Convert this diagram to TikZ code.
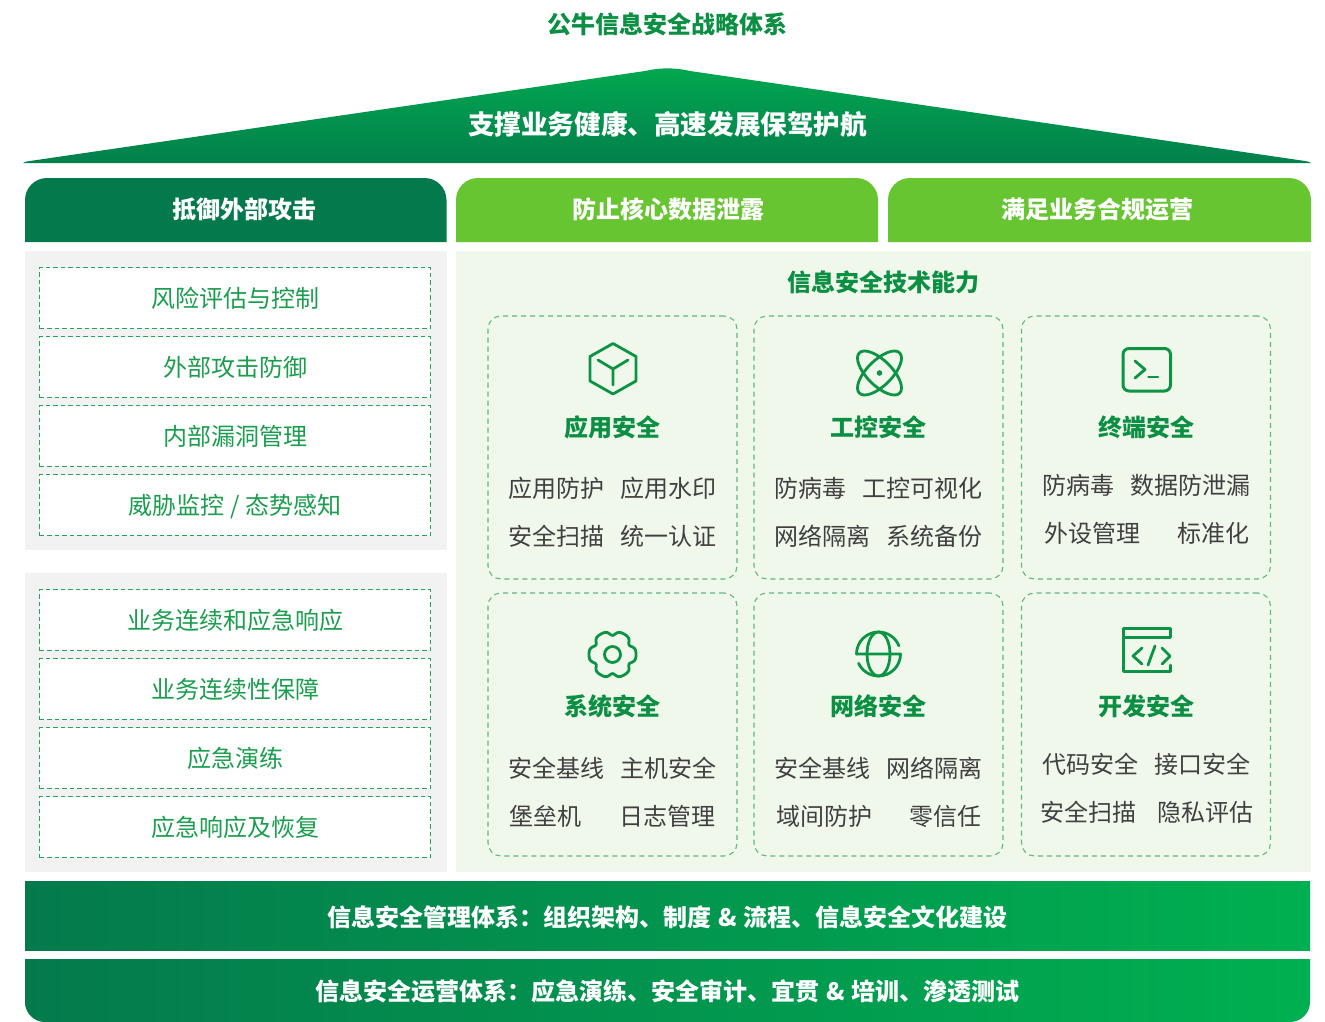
\documentclass[tikz,border=0pt]{standalone}
\usepackage{fontspec}
\setmainfont{Noto Sans CJK SC}
\definecolor{dkgreen}{HTML}{047A4C}
\definecolor{ltgreen}{HTML}{66C530}
\definecolor{brgreen}{HTML}{00B050}
\definecolor{ttl}{HTML}{0B8F43}
\definecolor{lst}{HTML}{1A9E4E}
\definecolor{ico}{HTML}{0B9444}
\definecolor{itm}{HTML}{404040}
\definecolor{dash1}{HTML}{22A65A}
\definecolor{dash2}{HTML}{5DB981}
\definecolor{panelA}{HTML}{F2F2F2}
\definecolor{panelB}{HTML}{F0F8EC}
\tikzset{
  x=1pt,y=-1pt,
  txt/.style={inner sep=0pt,font=\fontsize{24}{28}\selectfont},
  boldtxt/.style={txt,font=\fontsize{24}{28}\selectfont\bfseries},
  toptitle/.style={boldtxt,text=ttl},
  headtxt/.style={boldtxt,text=white},
  cardtitle/.style={boldtxt,text=ttl},
  cell/.style={txt,text=itm,anchor=west},
  listbox/.style={draw=dash1,fill=white,line width=1.2pt,dash pattern=on 4.5pt off 3pt,
    minimum width=391pt,minimum height=61pt,inner sep=0pt,text=lst,text height=21.5pt,text depth=2.5pt,
    font=\fontsize{24}{28}\selectfont},
  card/.style={draw=dash2,line width=1.1pt,dash pattern=on 5pt off 4pt,rounded corners=13pt,
    minimum width=249pt,minimum height=263pt,inner sep=0pt},
  icon/.style={draw=ico,line width=2.8pt,line cap=round,line join=round}
}
\begin{document}
\begin{tikzpicture}
\useasboundingbox (0,0) rectangle (1325,1022);
\fill[white] (0,0) rectangle (1325,1022);

\node[toptitle] (title) at (667.5,24) {公牛信息安全战略体系};

% roof
\shade[top color=brgreen!85!dkgreen,bottom color=dkgreen!90!brgreen]
  (23,163) .. controls (24,162) and (26,161.5) .. (30,161) -- (645,71) .. controls (660,67.5) and (675,67.5) .. (690,71)
  -- (1305,161) .. controls (1308,161.5) and (1310,162) .. (1311,163) -- cycle;
\node[headtxt,font=\fontsize{26.6}{30}\selectfont\bfseries] (roof) at (667.5,124) {支撑业务健康、高速发展保驾护航};

% headers
\fill[dkgreen] (25,242) -- (25,200) arc[start angle=180,end angle=270,radius=22] -- (424.5,178) arc[start angle=270,end angle=360,radius=22] -- (446.5,242) -- cycle;
\node[headtxt] (h1) at (244,209) {抵御外部攻击};
\fill[ltgreen] (456,242) -- (456,200) arc[start angle=180,end angle=270,radius=22] -- (856,178) arc[start angle=270,end angle=360,radius=22] -- (878,242) -- cycle;
\node[headtxt] (h2) at (668,209) {防止核心数据泄露};
\fill[ltgreen] (888,242) -- (888,200) arc[start angle=180,end angle=270,radius=22] -- (1289,178) arc[start angle=270,end angle=360,radius=22] -- (1311,242) -- cycle;
\node[headtxt] (h3) at (1097,209) {满足业务合规运营};

% panels
\fill[panelA] (25,251) rectangle (447,550);
\fill[panelA] (25,573) rectangle (447,872);
\fill[panelB] (456,251) rectangle (1311,872);

% lists
\node[listbox] (a1) at (235,298) {风险评估与控制};
\node[listbox] (a2) at (235,367) {外部攻击防御};
\node[listbox] (a3) at (235,436) {内部漏洞管理};
\node[listbox] (a4) at (235,505) {威胁监控 / 态势感知};
\node[listbox] (b1) at (235,620) {业务连续和应急响应};
\node[listbox] (b2) at (235,689) {业务连续性保障};
\node[listbox] (b3) at (235,758) {应急演练};
\node[listbox] (b4) at (235,827) {应急响应及恢复};

\node[toptitle] (tech) at (883,282) {信息安全技术能力};

% cards
\node[card] (c1) at (612.5,447.5) {};
\node[card] (c2) at (878.5,447.5) {};
\node[card] (c3) at (1146,447.5) {};
\node[card] (c4) at (612.5,724.5) {};
\node[card] (c5) at (878.5,724.5) {};
\node[card] (c6) at (1146,724.5) {};

% card titles
\node[cardtitle] (t1) at (612,427) {应用安全};
\node[cardtitle] (t2) at (878,427) {工控安全};
\node[cardtitle] (t3) at (1146,427) {终端安全};
\node[cardtitle] (t4) at (612,706) {系统安全};
\node[cardtitle] (t5) at (878,706) {网络安全};
\node[cardtitle] (t6) at (1146,706) {开发安全};

% card items
\node[cell] (i11) at (508,488) {应用防护};
\node[cell] (i12) at (620,488) {应用水印};
\node[cell] (i13) at (508,536) {安全扫描};
\node[cell] (i14) at (620,536) {统一认证};
\node[cell] (i21) at (774,488) {防病毒};
\node[cell] (i22) at (862,488) {工控可视化};
\node[cell] (i23) at (774,536) {网络隔离};
\node[cell] (i24) at (886,536) {系统备份};
\node[cell] (i31) at (1042,485) {防病毒};
\node[cell] (i32) at (1130,485) {数据防泄漏};
\node[cell] (i33) at (1044,533) {外设管理};
\node[cell] (i34) at (1177,533) {标准化};
\node[cell] (i41) at (508,768) {安全基线};
\node[cell] (i42) at (620,768) {主机安全};
\node[cell] (i43) at (509,816) {堡垒机};
\node[cell] (i44) at (619,816) {日志管理};
\node[cell] (i51) at (774,768) {安全基线};
\node[cell] (i52) at (886,768) {网络隔离};
\node[cell] (i53) at (776,816) {域间防护};
\node[cell] (i54) at (909,816) {零信任};
\node[cell] (i61) at (1042,764) {代码安全};
\node[cell] (i62) at (1154,764) {接口安全};
\node[cell] (i63) at (1040,812) {安全扫描};
\node[cell] (i64) at (1157,812) {隐私评估};

% cube icon
\draw[icon] (613,343.5) -- (636,356.5) -- (636,381) -- (613,394) -- (590,381) -- (590,356.5) -- cycle;
\draw[icon] (598,360) -- (613,369) -- (628,360) (613,369) -- (613,385);

% atom icon
\draw[icon,rotate around={45:(879.5,373)}] (879.5,373) ellipse[x radius=28.5,y radius=12.5];
\draw[icon,rotate around={-45:(879.5,373)}] (879.5,373) ellipse[x radius=28.5,y radius=12.5];
\fill[ico] (879.5,373) circle[radius=2.8];

% terminal icon
\draw[icon,line width=3pt,rounded corners=6pt] (1123,348.5) rectangle (1170.5,391);
\draw[icon] (1135,361) -- (1145,369.5) -- (1135,378);
\draw[icon] (1148.5,377) -- (1158,377);

% gear icon
\draw[icon] plot[smooth cycle,samples=73,domain=0:355,variable=\t]
  ({612.5+(23.5-4.5*pow((1-cos(6*\t))/2,3))*cos(\t)},{654.5+(23.5-4.5*pow((1-cos(6*\t))/2,3))*sin(\t)});
\draw[icon] (612.5,654.5) circle[radius=8];

% globe icon
\draw[icon] (856.5,654) arc[start angle=180,end angle=338,radius=22];
\draw[icon] (856.5,654) -- (900.5,654) arc[start angle=0,end angle=155,radius=22];
\draw[icon] (878.5,654) ellipse[x radius=11.5,y radius=22];

% code icon
\draw[icon,line width=3pt] (1170,637) -- (1170,628.5) -- (1123.5,628.5) -- (1123.5,671.5) -- (1170,671.5) -- (1170,665);
\draw[icon,line width=3pt] (1123.5,637) -- (1170,637);
\draw[icon] (1142,648) -- (1133,656) -- (1142,664);
\draw[icon] (1155,646) -- (1148,665);
\draw[icon] (1162,648) -- (1170,656) -- (1162,664);

% bottom bars
\shade[left color=dkgreen,right color=brgreen] (25,881) rectangle (1310,950);
\node[headtxt] (m1) at (667.5,917) {信息安全管理体系：组织架构、制度\hspace{7pt}\&\hspace{7pt}流程、信息安全文化建设};
\shade[left color=dkgreen,right color=brgreen] (25,959) -- (1310,959) -- (1310,1002) arc[start angle=0,end angle=90,radius=20] -- (45,1022) arc[start angle=90,end angle=180,radius=20] -- cycle;
\node[headtxt] (m2) at (667.5,991) {信息安全运营体系：应急演练、安全审计、宜贯\hspace{7pt}\&\hspace{7pt}培训、渗透测试};
\end{tikzpicture}
\end{document}
